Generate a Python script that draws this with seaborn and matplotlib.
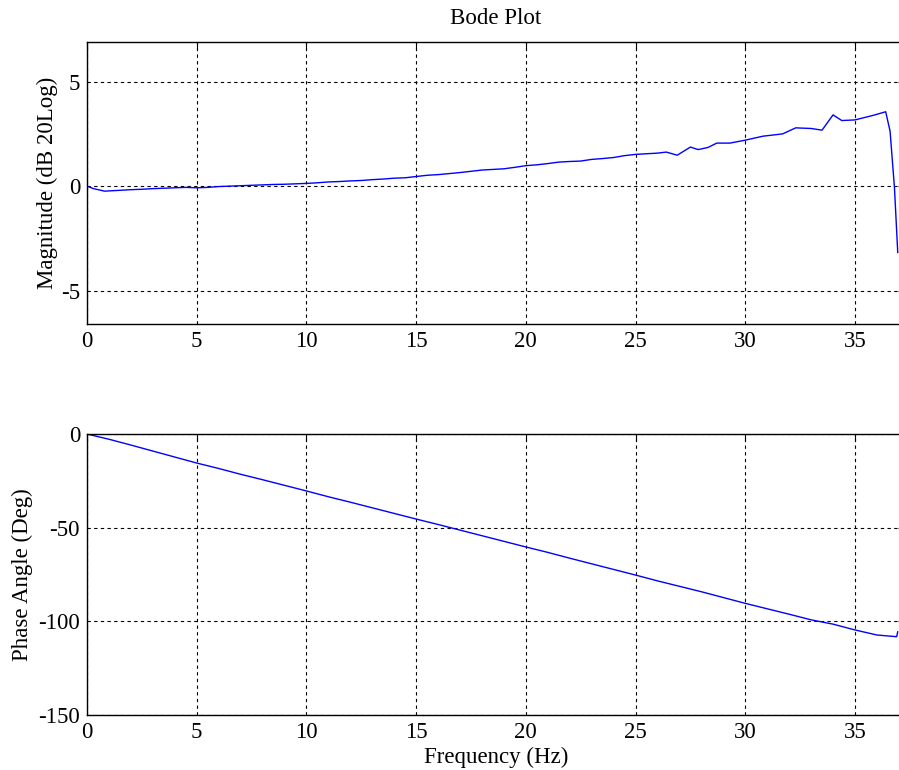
import matplotlib
matplotlib.use("Agg")
import matplotlib.pyplot as plt
import seaborn as sns
import pandas as pd

# ---- data ----
mag_freq = [0.0, 0.3, 0.8, 1.5, 2.0, 2.5, 3.0, 3.5, 4.0, 4.5, 5.0, 5.5, 6.0, 6.5, 7.0,
            7.5, 8.0, 8.5, 9.0, 9.5, 10.0, 10.5, 11.0, 11.5, 12.0, 12.5, 13.0, 13.5,
            14.0, 14.5, 15.0, 15.5, 16.0, 16.5, 17.0, 17.5, 18.0, 18.5, 19.0, 19.5,
            20.0, 20.5, 21.0, 21.5, 22.0, 22.5, 23.0, 23.5, 24.0, 24.5, 25.0, 25.5,
            26.0, 26.4, 26.9, 27.5, 27.85, 28.3, 28.7, 29.3, 30.0, 30.8, 31.7, 32.3,
            33.0, 33.5, 34.0, 34.4, 35.0, 35.8, 36.4, 36.6, 36.8, 36.95]
mag_db = [0.0, -0.12, -0.24, -0.2, -0.17, -0.15, -0.12, -0.1, -0.08, -0.06, -0.08, -0.06,
          -0.02, 0.0, 0.02, 0.04, 0.06, 0.08, 0.09, 0.11, 0.13, 0.16, 0.2, 0.22, 0.25,
          0.27, 0.31, 0.34, 0.38, 0.4, 0.46, 0.52, 0.55, 0.6, 0.65, 0.71, 0.77, 0.8,
          0.83, 0.9, 0.98, 1.02, 1.08, 1.15, 1.18, 1.2, 1.28, 1.32, 1.37, 1.46, 1.52,
          1.55, 1.58, 1.63, 1.48, 1.87, 1.75, 1.85, 2.06, 2.06, 2.2, 2.39, 2.5, 2.79,
          2.76, 2.68, 3.41, 3.14, 3.17, 3.38, 3.56, 2.63, -0.08, -3.19]

ph_freq = [0, 1, 2, 3, 4, 5, 6, 7, 8, 9, 10, 11, 12, 13, 14, 15, 16, 17, 18, 19, 20,
           21, 22, 23, 24, 25, 26, 27, 28, 29, 30, 31, 32, 33, 34, 35, 36, 36.9, 36.95]
ph_deg = [0, -2.8, -5.9, -9.1, -12.3, -15.5, -18.4, -21.5, -24.4, -27.4, -30.4, -33.5,
          -36.4, -39.4, -42.4, -45.4, -48.3, -51.3, -54.3, -57.3, -60.3, -63.2, -66.3,
          -69.3, -72.3, -75.3, -78.4, -81.3, -84.2, -87.3, -90.4, -93.3, -96.2, -99.2,
          -101.5, -104.6, -107.3, -108.2, -105.5]

x_ticks = [0, 5, 10, 15, 20, 25, 30, 35]
mag_ticks = [-5, 0, 5]
ph_ticks = [-150, -100, -50, 0]

title = "Bode Plot"
mag_label = "Magnitude (dB 20Log)"
ph_label = "Phase Angle (Deg)"
x_label = "Frequency (Hz)"

# ---- style ----
sns.set_style("white")
plt.rcParams["font.family"] = ["Liberation Serif", "DejaVu Serif"]
plt.rcParams["font.size"] = 16.5
plt.rcParams["axes.unicode_minus"] = False
plt.rcParams["text.color"] = "black"
plt.rcParams["axes.labelcolor"] = "black"

FS = 16.5
W, H = 899, 770
fig = plt.figure(figsize=(W / 100, H / 100), dpi=100)

def ax_rect(left, top, right, bottom):
    return [left / W, 1 - bottom / H, (right - left) / W, (bottom - top) / H]

ax1 = fig.add_axes(ax_rect(87, 42, 905, 324))
ax2 = fig.add_axes(ax_rect(87, 434, 905, 715))

df_mag = pd.DataFrame({"f": mag_freq, "m": mag_db})
df_ph = pd.DataFrame({"f": ph_freq, "p": ph_deg})

sns.lineplot(data=df_mag, x="f", y="m", ax=ax1, color=(0, 0, 1), linewidth=1.0,
             estimator=None, sort=False)
sns.lineplot(data=df_ph, x="f", y="p", ax=ax2, color=(0, 0, 1), linewidth=1.0,
             estimator=None, sort=False)

xmax = 37.28
for ax in (ax1, ax2):
    ax.set_xlim(0, xmax)
    ax.set_xticks(x_ticks)
    ax.grid(True, color="black", linestyle=(0, (3, 3)), linewidth=0.8)
    ax.set_axisbelow(True)
    for s in ax.spines.values():
        s.set_color("black")
        s.set_linewidth(1.0)
    ax.tick_params(direction="in", length=5, width=0.8, top=True, right=True,
                   colors="black", labelsize=FS, pad=5)
    ax.set_facecolor("white")

ax1.set_ylim(-6.6, 6.9)
ax1.set_yticks(mag_ticks)
ax1.set_xlabel("")
ax1.set_ylabel(mag_label, fontsize=FS, labelpad=2)
ax1.set_title(title, fontsize=FS, pad=13)

ax2.set_ylim(-150, 0)
ax2.set_yticks(ph_ticks)
ax2.set_xlabel(x_label, fontsize=FS, labelpad=3)
ax2.set_ylabel(ph_label, fontsize=FS, labelpad=4)

fig.savefig("out.png", dpi=100, facecolor="white")
